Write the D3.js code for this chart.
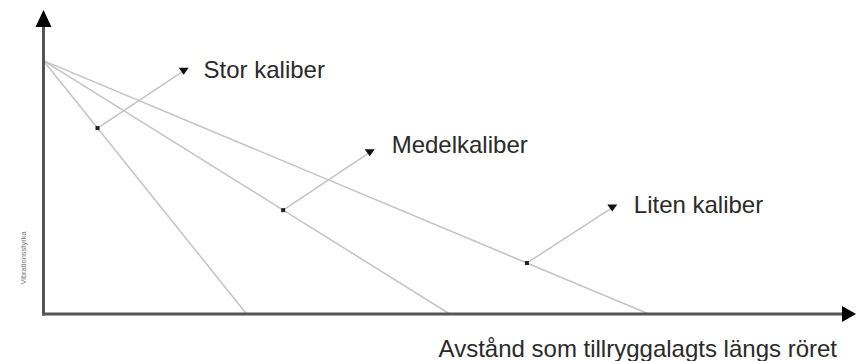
<!DOCTYPE html>
<html>
<head>
<meta charset="utf-8">
<script src="https://cdn.jsdelivr.net/npm/d3@7"></script>
<style>
  body { margin: 0; background: #fff; }
  svg { display: block; font-family: "Liberation Sans", Arial, sans-serif; }
</style>
</head>
<body>
<div id="chart"></div>
<script>
// data
var calibers = ["Stor kaliber", "Medelkaliber", "Liten kaliber"];
var startValue = [1, 1, 1];          // vibration at distance 0
var endDistance = [1, 2, 2.98];      // where vibration reaches 0
var dotDistance = [0.266, 1.18, 2.38];
var markerPos = [[0.69, 0.96], [1.606, 0.638], [2.8, 0.42]];
var textPos = [[0.788, 0.93], [1.714, 0.635], [2.906, 0.4]];
var xTitle = "Avstånd som tillryggalagts längs röret";
var yTitle = "Vibrationsstyrka";

var width = 857, height = 361;
var x = d3.scaleLinear([0, 4], [43.5, 856]);
var y = d3.scaleLinear([0, 1.2], [314, 10]);

var svg = d3.select("#chart").append("svg")
    .attr("width", width)
    .attr("height", height)
    .attr("viewBox", [0, 0, width, height]);

// decay lines
calibers.forEach(function (c, i) {
    svg.append("line")
        .attr("x1", x(0)).attr("y1", y(startValue[i]))
        .attr("x2", x(endDistance[i])).attr("y2", y(0))
        .attr("stroke", "#c4c4c4")
        .attr("stroke-width", 1.5);
});

// callouts
calibers.forEach(function (c, i) {
    var dx = dotDistance[i];
    var dy = startValue[i] * (1 - dx / endDistance[i]);
    var mx = x(markerPos[i][0]), my = y(markerPos[i][1]);
    svg.append("line")
        .attr("x1", x(dx)).attr("y1", y(dy))
        .attr("x2", mx).attr("y2", my)
        .attr("stroke", "#c4c4c4")
        .attr("stroke-width", 1.5);
    svg.append("rect")
        .attr("x", x(dx) - 2).attr("y", y(dy) - 2)
        .attr("width", 4).attr("height", 4)
        .attr("fill", "#222");
    svg.append("path")
        .attr("d", "M" + (mx - 5) + "," + (my - 3) + "L" + (mx + 5) + "," + (my - 3) + "L" + mx + "," + (my + 4) + "Z")
        .attr("fill", "#111");
    svg.append("text")
        .attr("x", x(textPos[i][0])).attr("y", y(textPos[i][1]))
        .attr("font-size", 24)
        .attr("fill", "#2a2a2a")
        .text(c);
});

// axes
svg.append("line")
    .attr("x1", x(0)).attr("y1", y(0) + 1.5)
    .attr("x2", x(0)).attr("y2", y(1.2) + 12)
    .attr("stroke", "#555").attr("stroke-width", 3);
svg.append("line")
    .attr("x1", x(0) - 1.5).attr("y1", y(0))
    .attr("x2", x(4) - 10).attr("y2", y(0))
    .attr("stroke", "#555").attr("stroke-width", 3);
svg.append("path")
    .attr("d", "M" + x(0) + "," + y(1.2) + "L" + (x(0) + 8) + "," + (y(1.2) + 17) + "L" + (x(0) - 8) + "," + (y(1.2) + 17) + "Z")
    .attr("fill", "#000");
svg.append("path")
    .attr("d", "M" + x(4) + "," + y(0) + "L" + (x(4) - 14) + "," + (y(0) - 8) + "L" + (x(4) - 14) + "," + (y(0) + 8) + "Z")
    .attr("fill", "#000");

svg.append("text")
    .attr("x", 837).attr("y", 357)
    .attr("text-anchor", "end")
    .attr("font-size", 24)
    .attr("fill", "#2a2a2a")
    .text(xTitle);

svg.append("text")
    .attr("transform", "translate(26,258) rotate(-90)")
    .attr("text-anchor", "middle")
    .attr("font-size", 7.5)
    .attr("fill", "#777")
    .text(yTitle);
</script>
</body>
</html>
